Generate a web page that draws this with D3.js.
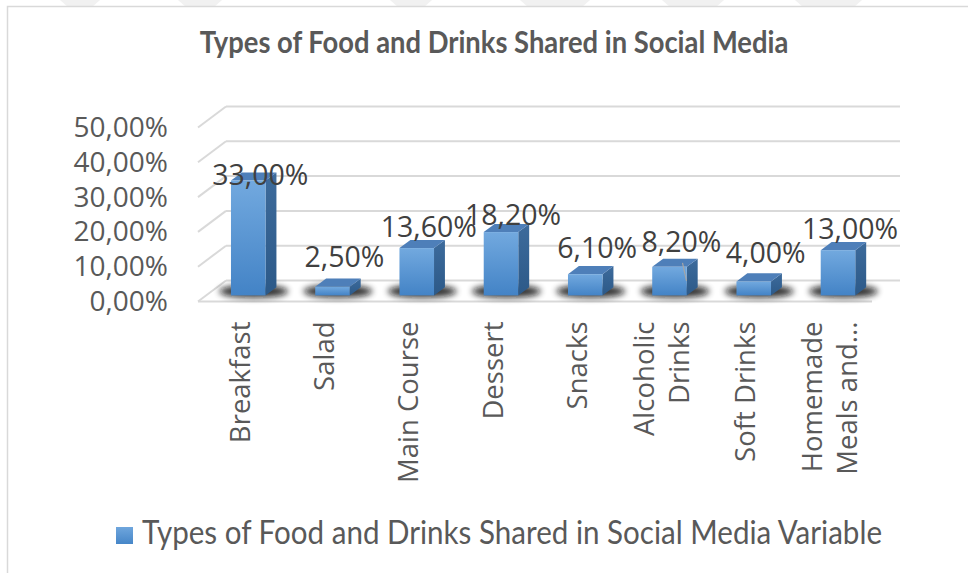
<!DOCTYPE html>
<html>
<head>
<meta charset="utf-8">
<script src="https://cdn.jsdelivr.net/npm/d3@7"></script>
<style>
  body { margin: 0; background: #ffffff; }
  svg { display: block; }
</style>
</head>
<body>
<svg id="chart" width="968" height="573"></svg>
<script>
// ---- data ----
const categories = ["Breakfast", "Salad", "Main Course", "Dessert", "Snacks",
                    "Alcoholic Drinks", "Soft Drinks", "Homemade Meals and..."];
const categoryLines = [["Breakfast"], ["Salad"], ["Main Course"], ["Dessert"], ["Snacks"],
                       ["Alcoholic", "Drinks"], ["Soft Drinks"], ["Homemade", "Meals and..."]];
const values = [33.0, 2.5, 13.6, 18.2, 6.1, 8.2, 4.0, 13.0];
const yTicks = [0, 10, 20, 30, 40, 50];
const chartTitle = "Types of Food and Drinks Shared in Social Media";
const seriesName = "Types of Food and Drinks Shared in Social Media Variable";

// ---- formatting (comma decimal) ----
const locale = d3.formatLocale({ decimal: ",", thousands: ".", grouping: [3], currency: ["", ""] });
const fmt = v => locale.format(".2f")(v) + "%";

const svg = d3.select("#chart");
const defs = svg.append("defs");

// ---- 3D geometry ----
const DX = 28, DY = -21;               // full depth offset of the floor / walls
const barFront = 0.29, barBack = 0.68; // depth fractions of the bar's front and back faces

const x = d3.scaleBand().domain(categories).range([198, 872])
  .paddingInner(0.59).paddingOuter(0.295);
const y = d3.scaleLinear().domain([0, 50]).range([301.5, 127.5]);
// data labels sit above the bars, following the perspective of the view
const yLabel = d3.scaleLinear().domain([0, 50]).range([274, 139]);

const [rx0, rx1] = x.range();

// gradients
const gFront = defs.append("linearGradient").attr("id", "gFront")
  .attr("x1", 0).attr("y1", 0).attr("x2", 0).attr("y2", 1);
gFront.append("stop").attr("offset", "0%").attr("stop-color", "#72a9df");
gFront.append("stop").attr("offset", "100%").attr("stop-color", "#4383c6");
const gSide = defs.append("linearGradient").attr("id", "gSide")
  .attr("x1", 0).attr("y1", 0).attr("x2", 0).attr("y2", 1);
gSide.append("stop").attr("offset", "0%").attr("stop-color", "#3d6b9c");
gSide.append("stop").attr("offset", "100%").attr("stop-color", "#2c5988");
const gLegend = defs.append("linearGradient").attr("id", "gLegend")
  .attr("x1", 0).attr("y1", 0).attr("x2", 0).attr("y2", 1);
gLegend.append("stop").attr("offset", "0%").attr("stop-color", "#6fa6dd");
gLegend.append("stop").attr("offset", "100%").attr("stop-color", "#4686c8");
defs.append("filter").attr("id", "soft").attr("x", "-50%").attr("y", "-100%")
  .attr("width", "200%").attr("height", "300%")
  .append("feGaussianBlur").attr("stdDeviation", 3);

// ---- faint background decoration and frame ----
const deco = [[60, 100], [178, 222], [390, 432], [520, 590], [662, 724], [795, 862]];
svg.append("g").selectAll("path").data(deco).join("path")
  .attr("d", d => `M${d[0]},0 L${d[1]},0 L${d[1] - 8},7 L${d[0] + 8},7 Z`)
  .attr("fill", "#f1f1f1");
svg.append("path").attr("d", "M7.5,573 L7.5,6.5 L968,6.5")
  .attr("fill", "none").attr("stroke", "#d9d9d9").attr("stroke-width", 1.5);

// ---- title ----
function fitText(sel, size, width, squeeze) {
  sel.attr("font-size", size);
  const w = sel.node().getComputedTextLength() * squeeze;
  sel.attr("font-size", size * width / w);
}
const titleG = svg.append("g").attr("transform", "translate(494,53) scale(0.9,1)");
const titleText = titleG.append("text").text(chartTitle)
  .attr("x", 0).attr("y", 0).attr("text-anchor", "middle")
  .attr("font-family", "Lato, 'Open Sans', sans-serif").attr("font-weight", 700)
  .attr("fill", "#595959");
fitText(titleText, 22, 588, 0.9);

// ---- walls, floor and gridlines ----
const grid = svg.append("g").attr("stroke", "#d9d9d9").attr("stroke-width", 2).attr("fill", "none");
grid.selectAll("line.back").data(yTicks).join("line").attr("class", "back")
  .attr("x1", rx0 + DX).attr("x2", rx1 + DX)
  .attr("y1", d => y(d) + DY).attr("y2", d => y(d) + DY);
grid.selectAll("line.side").data(yTicks).join("line").attr("class", "side")
  .attr("x1", rx0).attr("x2", rx0 + DX)
  .attr("y1", d => y(d)).attr("y2", d => y(d) + DY);
grid.append("line")
  .attr("x1", rx0).attr("x2", rx1).attr("y1", y(0)).attr("y2", y(0));

// ---- y axis ----
const yAxis = d3.axisLeft(y).tickValues(yTicks).tickSize(0).tickPadding(0)
  .tickFormat(fmt);
const yAxisG = svg.append("g").attr("transform", "translate(168,0)").call(yAxis);
yAxisG.select(".domain").remove();
yAxisG.selectAll("text")
  .attr("font-family", "'Open Sans', sans-serif").attr("font-size", 28)
  .attr("fill", "#595959");

// ---- bars ----
const bw = x.bandwidth();
const bdx = DX * (barBack - barFront), bdy = DY * (barBack - barFront);
const bars = svg.append("g").selectAll("g").data(categories.map((c, i) => ({ c, v: values[i] })))
  .join("g");

// soft shadow on the floor under each bar
bars.append("ellipse")
  .attr("cx", d => x(d.c) + DX * barFront + bw / 2 + bdx / 2)
  .attr("cy", d => y(0) + DY * (barFront + barBack) / 2)
  .attr("rx", bw * 1.0).attr("ry", 6.5)
  .attr("fill", "#111111").attr("opacity", 0.85)
  .attr("filter", "url(#soft)");

bars.each(function (d) {
  const g = d3.select(this);
  const xl = x(d.c) + DX * barFront, xr = xl + bw;
  const yb = y(0) + DY * barFront, yt = y(d.v) + DY * barFront;
  g.append("path")
    .attr("d", `M${xr},${yb} L${xr},${yt} L${xr + bdx},${yt + bdy} L${xr + bdx},${yb + bdy} Z`)
    .attr("fill", "url(#gSide)");
  g.append("path")
    .attr("d", `M${xl},${yt} L${xr},${yt} L${xr + bdx},${yt + bdy} L${xl + bdx},${yt + bdy} Z`)
    .attr("fill", "#4e7fb9");
  g.append("rect")
    .attr("x", xl).attr("y", yt).attr("width", bw).attr("height", yb - yt)
    .attr("fill", "url(#gFront)");
});

// ---- data labels ----
const labelX = c => x(c) + bw / 2 + DX * barFront + 12;
// leader line for the label that sits off its bar
svg.append("line")
  .attr("x1", labelX(categories[5]) + 1).attr("y1", yLabel(values[5]) + 11)
  .attr("x2", labelX(categories[5]) + 5).attr("y2", yLabel(values[5]) + 29)
  .attr("stroke", "#a6a6a6").attr("stroke-width", 1.2);
svg.append("g").selectAll("text").data(categories.map((c, i) => ({ c, v: values[i] })))
  .join("text")
  .attr("x", d => labelX(d.c))
  .attr("y", d => yLabel(d.v))
  .attr("text-anchor", "middle")
  .attr("font-family", "'Open Sans', sans-serif").attr("font-size", 28.5)
  .attr("fill", "#404040")
  .text(d => fmt(d.v));

// ---- category axis (rotated labels) ----
const xAxis = d3.axisBottom(x).tickSize(0).tickPadding(0).tickFormat("");
const xAxisG = svg.append("g").attr("transform", `translate(0,${y(0)})`).call(xAxis);
xAxisG.select(".domain").remove();
xAxisG.selectAll(".tick").each(function (c, i) {
  const lines = categoryLines[i];
  const t = d3.select(this).append("text")
    .attr("transform", "translate(0,20) rotate(-90)")
    .attr("text-anchor", "end")
    .attr("font-family", "'Open Sans', sans-serif").attr("font-size", 27.5)
    .attr("fill", "#595959");
  lines.forEach((ln, k) => {
    t.append("tspan").attr("x", 0)
      .attr("y", (k - (lines.length - 1) / 2) * 35)
      .attr("dy", "0.35em").text(ln);
  });
});

// ---- legend ----
const legend = svg.append("g").attr("transform", "translate(116,527)");
legend.append("rect").attr("width", 17).attr("height", 17).attr("fill", "url(#gLegend)");
const legG = legend.append("g").attr("transform", "translate(26,17) scale(0.92,1)");
const legText = legG.append("text").text(seriesName)
  .attr("x", 0).attr("y", 0)
  .attr("font-family", "Lato, 'Open Sans', sans-serif")
  .attr("fill", "#595959");
fitText(legText, 26, 740, 0.92);
</script>
</body>
</html>
